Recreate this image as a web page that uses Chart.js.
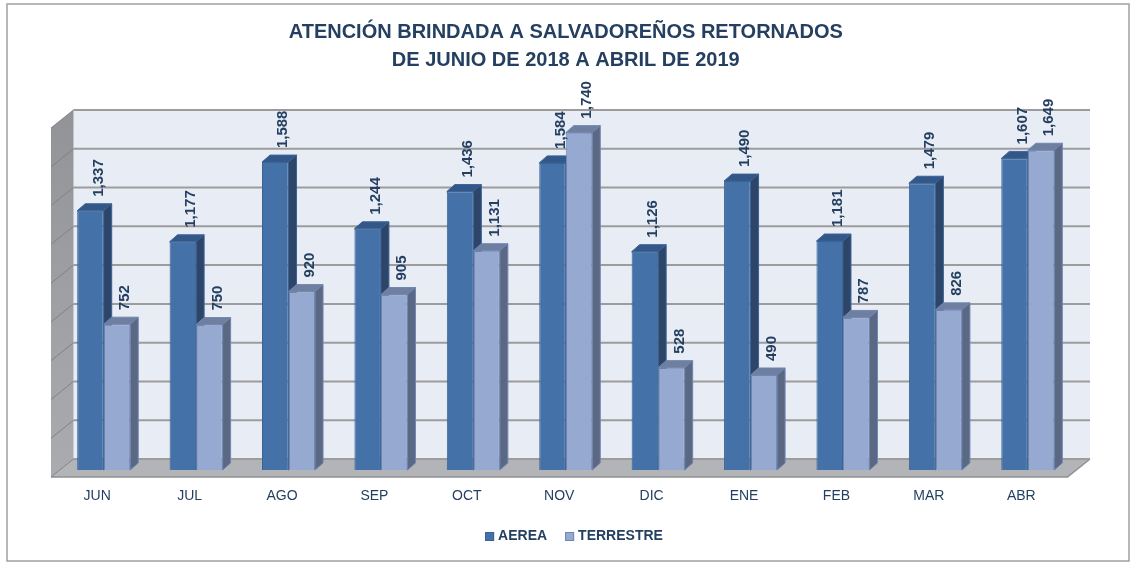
<!DOCTYPE html>
<html>
<head>
<meta charset="utf-8">
<script src="https://cdn.jsdelivr.net/npm/chart.js@4.4.1/dist/chart.umd.min.js"></script>
<style>
html,body{margin:0;padding:0;background:#fff;}
#wrap{width:1131px;height:562px;position:relative;}
</style>
</head>
<body>
<div id="wrap"><canvas id="c" width="1131" height="562"></canvas></div>
<script>
// ---- data ----
const categories = ['JUN','JUL','AGO','SEP','OCT','NOV','DIC','ENE','FEB','MAR','ABR'];
const aerea      = [1337,1177,1588,1244,1436,1584,1126,1490,1181,1479,1607];
const terrestre  = [752, 750, 920, 905, 1131,1740,528, 490, 787, 826, 1649];
const seriesNames = ['AEREA','TERRESTRE'];
const yMin = 0, yMax = 1800, yStep = 200;
const titleLines = ['ATENCIÓN BRINDADA A SALVADOREÑOS RETORNADOS','DE JUNIO DE 2018 A ABRIL DE 2019'];

// ---- style ----
const SANS = "'Liberation Sans',Arial,sans-serif";
const NAVY = '#243f60';
const faces = [
  {front:'#4471a7', border:'#3a6395', top:'#34578a', side:'#2c4569'},
  {front:'#95a9d1', border:'#6f86b3', top:'#6e7fa0', side:'#5b6883'}
];
const BAR_DX = 8, BAR_DY = -7;       // bar depth
const FRONT_DX = -6.5, FRONT_DY = 7; // floor front edge offset
const BACK_DX = 16, BACK_DY = -11;   // back wall offset

const fmt = v => v.toLocaleString('en-US');

function drawBarFaces(chart, index) {
  const ctx = chart.ctx;
  const f = faces[index];
  const meta = chart.getDatasetMeta(index);
  ctx.save();
  ctx.lineWidth = 1;
  meta.data.forEach(el => {
    const p = el.getProps(['x','y','base','width'], true);
    const l = p.x - p.width / 2, r = p.x + p.width / 2;
    ctx.fillStyle = f.top;
    ctx.strokeStyle = f.border;
    ctx.beginPath();
    ctx.moveTo(l, p.y);
    ctx.lineTo(l + BAR_DX, p.y + BAR_DY);
    ctx.lineTo(r + BAR_DX, p.y + BAR_DY);
    ctx.lineTo(r, p.y);
    ctx.closePath();
    ctx.fill(); ctx.stroke();
    ctx.fillStyle = f.side;
    ctx.beginPath();
    ctx.moveTo(r, p.y);
    ctx.lineTo(r + BAR_DX, p.y + BAR_DY);
    ctx.lineTo(r + BAR_DX, p.base + BAR_DY);
    ctx.lineTo(r, p.base);
    ctx.closePath();
    ctx.fill(); ctx.stroke();
  });
  ctx.restore();
}

const depthPlugin = {
  id: 'depth3d',
  beforeDraw(chart) {
    const ctx = chart.ctx;
    ctx.save();
    ctx.fillStyle = '#ffffff';
    ctx.fillRect(0, 0, chart.width, chart.height);
    ctx.strokeStyle = '#a0a0a0';
    ctx.lineWidth = 1.5;
    ctx.strokeRect(7, 4, 1122, 557);
    ctx.restore();
  },
  beforeDatasetsDraw(chart) {
    const ctx = chart.ctx;
    const ys = chart.scales.y;
    const a = chart.chartArea;
    const yTop = ys.getPixelForValue(yMax), y0 = ys.getPixelForValue(yMin);
    ctx.save();
    // back wall
    ctx.fillStyle = '#e8ecf5';
    ctx.fillRect(a.left + BACK_DX, yTop + BACK_DY, a.right - a.left, y0 - yTop);
    // left wall
    const g = ctx.createLinearGradient(0, yTop, 0, y0);
    g.addColorStop(0, '#929497');
    g.addColorStop(1, '#a9abae');
    ctx.fillStyle = g;
    ctx.beginPath();
    ctx.moveTo(a.left + FRONT_DX, yTop + FRONT_DY);
    ctx.lineTo(a.left + BACK_DX, yTop + BACK_DY);
    ctx.lineTo(a.left + BACK_DX, y0 + BACK_DY);
    ctx.lineTo(a.left + FRONT_DX, y0 + FRONT_DY);
    ctx.closePath();
    ctx.fill();
    // floor
    ctx.fillStyle = '#b2b4b7';
    ctx.beginPath();
    ctx.moveTo(a.left + FRONT_DX, y0 + FRONT_DY);
    ctx.lineTo(a.left + BACK_DX, y0 + BACK_DY);
    ctx.lineTo(a.right + BACK_DX, y0 + BACK_DY);
    ctx.lineTo(a.right + FRONT_DX, y0 + FRONT_DY);
    ctx.closePath();
    ctx.fill();
    ctx.strokeStyle = '#8e9093';
    ctx.lineWidth = 1.5;
    ctx.beginPath();
    ctx.moveTo(a.left + FRONT_DX, y0 + FRONT_DY);
    ctx.lineTo(a.right + FRONT_DX, y0 + FRONT_DY);
    ctx.lineTo(a.right + BACK_DX, y0 + BACK_DY);
    ctx.stroke();
    // gridlines
    for (let v = yMin; v <= yMax; v += yStep) {
      const yy = ys.getPixelForValue(v);
      ctx.strokeStyle = '#9c9c9c';
      ctx.lineWidth = 2;
      ctx.beginPath();
      ctx.moveTo(a.left + BACK_DX, yy + BACK_DY);
      ctx.lineTo(a.right + BACK_DX, yy + BACK_DY);
      ctx.stroke();
      ctx.strokeStyle = '#808285';
      ctx.lineWidth = 1;
      ctx.beginPath();
      ctx.moveTo(a.left + FRONT_DX, yy + FRONT_DY);
      ctx.lineTo(a.left + BACK_DX, yy + BACK_DY);
      ctx.stroke();
    }
    ctx.restore();
    // AEREA depth faces go behind the TERRESTRE fronts
    drawBarFaces(chart, 0);
  },
  afterDatasetDraw(chart, args) {
    if (args.index === 1) drawBarFaces(chart, 1);
  },
  afterDatasetsDraw(chart) {
    const ctx = chart.ctx;
    ctx.save();
    ctx.fillStyle = NAVY;
    ctx.font = 'bold 15px ' + SANS;
    ctx.textAlign = 'left';
    ctx.textBaseline = 'middle';
    chart.data.datasets.forEach((ds, i) => {
      const meta = chart.getDatasetMeta(i);
      meta.data.forEach((el, j) => {
        const p = el.getProps(['x','y'], true);
        ctx.save();
        ctx.translate(p.x + 8, p.y - 14);
        ctx.rotate(-Math.PI / 2);
        ctx.fillText(fmt(ds.data[j]), 0, 0);
        ctx.restore();
      });
    });
    ctx.restore();
  },
  afterDraw(chart) {
    // legend
    const ctx = chart.ctx;
    const ds = chart.data.datasets;
    ctx.save();
    ctx.font = 'bold 14px ' + SANS;
    ctx.textBaseline = 'middle';
    ctx.textAlign = 'left';
    const box = 9, gapTxt = 4, gapItem = 18;
    const widths = ds.map(d => box + gapTxt + ctx.measureText(d.label).width);
    const total = widths.reduce((s, w) => s + w, 0) + gapItem * (ds.length - 1);
    let x = 574 - total / 2;
    const cy = 536.5;
    ds.forEach((d, i) => {
      ctx.fillStyle = d.backgroundColor;
      ctx.fillRect(x, cy - box / 2, box, box);
      ctx.strokeStyle = d.borderColor;
      ctx.lineWidth = 1;
      ctx.strokeRect(x + 0.5, cy - box / 2 + 0.5, box - 1, box - 1);
      ctx.fillStyle = NAVY;
      ctx.fillText(d.label, x + box + gapTxt, cy);
      x += widths[i] + gapItem;
    });
    ctx.restore();
  }
};

new Chart(document.getElementById('c'), {
  type: 'bar',
  data: {
    labels: categories,
    datasets: [
      {label: seriesNames[0], data: aerea,
       backgroundColor: faces[0].front, borderColor: faces[0].border, borderWidth: 1,
       categoryPercentage: 0.574, barPercentage: 1},
      {label: seriesNames[1], data: terrestre,
       backgroundColor: faces[1].front, borderColor: faces[1].border, borderWidth: 1,
       categoryPercentage: 0.574, barPercentage: 1}
    ]
  },
  options: {
    responsive: false,
    animation: false,
    devicePixelRatio: 1,
    layout: {padding: {top: 8, left: 57.5, right: 57, bottom: 40}},
    plugins: {
      tooltip: {enabled: false},
      legend: {display: false},
      title: {
        display: true, text: titleLines, color: NAVY,
        font: {family: SANS, size: 20, weight: 'bold', lineHeight: 1.4},
        padding: {top: 10, bottom: 47}
      }
    },
    scales: {
      x: {
        grid: {display: false, drawTicks: false},
        border: {display: false},
        ticks: {color: NAVY, padding: 17.6, labelOffset: -6.5,
                font: {family: SANS, size: 14, lineHeight: 1.2}}
      },
      y: {display: false, min: yMin, max: yMax, ticks: {stepSize: yStep}}
    }
  },
  plugins: [depthPlugin]
});
</script>
</body>
</html>
